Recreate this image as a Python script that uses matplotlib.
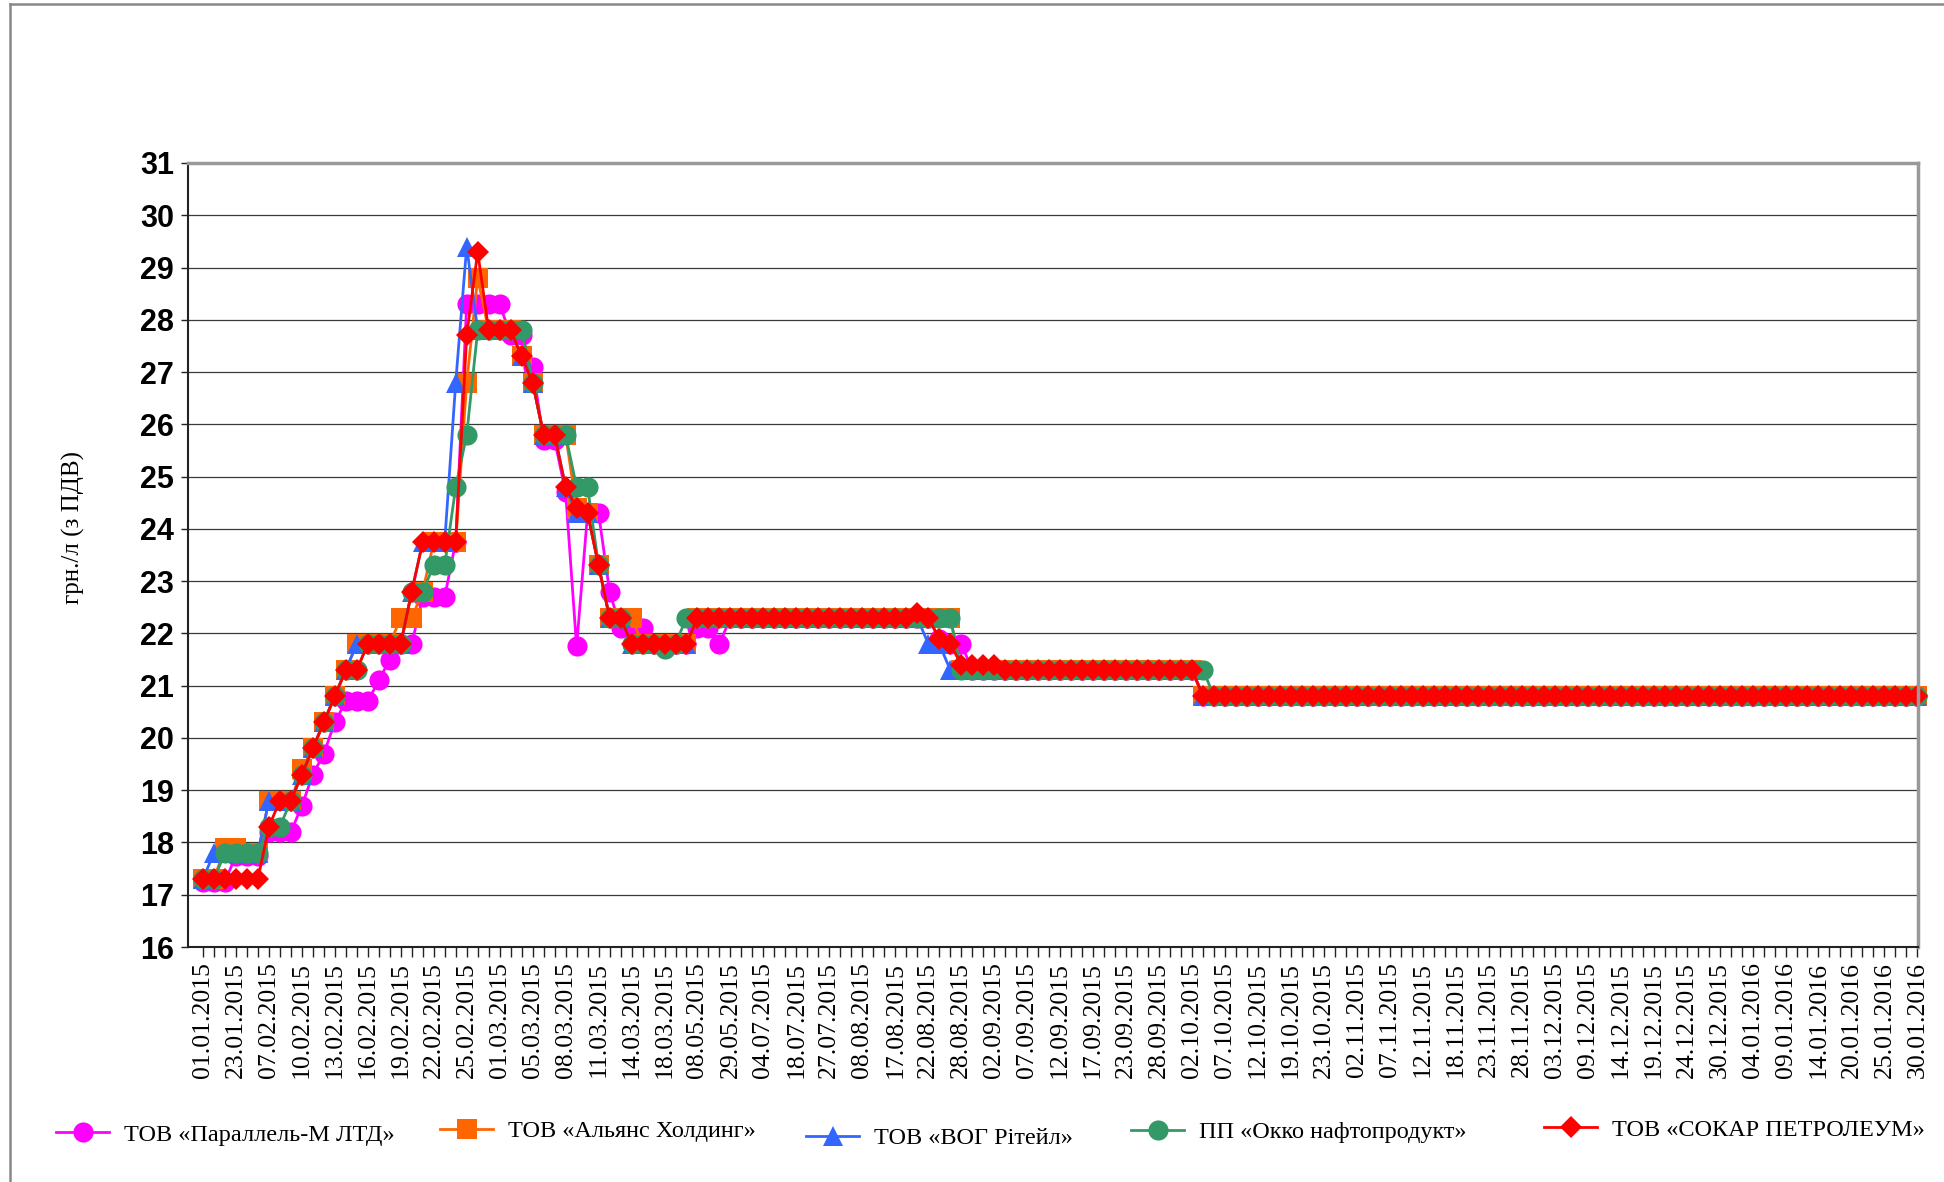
import numpy as np
import matplotlib.pyplot as plt
from matplotlib.lines import Line2D

# підписи дат (кожна третя категорія)
date_labels = ['01.01.2015', '23.01.2015', '07.02.2015', '10.02.2015', '13.02.2015', '16.02.2015',
               '19.02.2015', '22.02.2015', '25.02.2015', '01.03.2015', '05.03.2015', '08.03.2015',
               '11.03.2015', '14.03.2015', '18.03.2015', '08.05.2015', '29.05.2015', '04.07.2015',
               '18.07.2015', '27.07.2015', '08.08.2015', '17.08.2015', '22.08.2015', '28.08.2015',
               '02.09.2015', '07.09.2015', '12.09.2015', '17.09.2015', '23.09.2015', '28.09.2015',
               '02.10.2015', '07.10.2015', '12.10.2015', '19.10.2015', '23.10.2015', '02.11.2015',
               '07.11.2015', '12.11.2015', '18.11.2015', '23.11.2015', '28.11.2015', '03.12.2015',
               '09.12.2015', '14.12.2015', '19.12.2015', '24.12.2015', '30.12.2015', '04.01.2016',
               '09.01.2016', '14.01.2016', '20.01.2016', '25.01.2016', '30.01.2016']

names = ['ТОВ «Параллель-М ЛТД»', 'ТОВ «Альянс Холдинг»', 'ТОВ «ВОГ Рітейл»',
         'ПП «Окко нафтопродукт»', 'ТОВ «СОКАР ПЕТРОЛЕУМ»']

parallel = [
    17.25, 17.25, 17.25, 17.75, 17.75, 17.75, 18.2, 18.2, 18.2, 18.7,
    19.3, 19.7, 20.3, 20.7, 20.7, 20.7, 21.1, 21.5, 21.8, 21.8,
    22.7, 22.7, 22.7, 23.75, 28.3, 28.3, 28.3, 28.3, 27.7, 27.7,
    27.1, 25.7, 25.7, 24.7, 21.75, 24.3, 24.3, 22.8, 22.1, 22.1,
    22.1, 21.8, 21.8, 21.8, 21.8, 22.1, 22.1, 21.8, 22.3, 22.3,
    22.3, 22.3, 22.3, 22.3, 22.3, 22.3, 22.3, 22.3, 22.3, 22.3,
    22.3, 22.3, 22.3, 22.3, 22.3, 22.3, 22.3, 21.9, 21.8, 21.8,
    21.3, 21.3, 21.3, 21.3, 21.3, 21.3, 21.3, 21.3, 21.3, 21.3,
    21.3, 21.3, 21.3, 21.3, 21.3, 21.3, 21.3, 21.3, 21.3, 21.3,
    21.3, 20.8, 20.8, 20.8, 20.8, 20.8, 20.8, 20.8, 20.8, 20.8,
    20.8, 20.8, 20.8, 20.8, 20.8, 20.8, 20.8, 20.8, 20.8, 20.8,
    20.8, 20.8, 20.8, 20.8, 20.8, 20.8, 20.8, 20.8, 20.8, 20.8,
    20.8, 20.8, 20.8, 20.8, 20.8, 20.8, 20.8, 20.8, 20.8, 20.8,
    20.8, 20.8, 20.8, 20.8, 20.8, 20.8, 20.8, 20.8, 20.8, 20.8,
    20.8, 20.8, 20.8, 20.8, 20.8, 20.8, 20.8, 20.8, 20.8, 20.8,
    20.8, 20.8, 20.8, 20.8, 20.8, 20.8, 20.8]

alliance = [
    17.3, 17.3, 17.9, 17.9, 17.8, 17.8, 18.8, 18.8, 18.8, 19.4,
    19.8, 20.3, 20.8, 21.3, 21.8, 21.8, 21.8, 21.8, 22.3, 22.3,
    22.8, 23.75, 23.75, 23.75, 26.8, 28.8, 27.8, 27.8, 27.8, 27.3,
    26.8, 25.8, 25.8, 25.8, 24.4, 24.3, 23.3, 22.3, 22.3, 22.3,
    21.8, 21.8, 21.8, 21.8, 21.8, 22.3, 22.3, 22.3, 22.3, 22.3,
    22.3, 22.3, 22.3, 22.3, 22.3, 22.3, 22.3, 22.3, 22.3, 22.3,
    22.3, 22.3, 22.3, 22.3, 22.3, 22.3, 22.3, 22.3, 22.3, 21.3,
    21.3, 21.3, 21.3, 21.3, 21.3, 21.3, 21.3, 21.3, 21.3, 21.3,
    21.3, 21.3, 21.3, 21.3, 21.3, 21.3, 21.3, 21.3, 21.3, 21.3,
    21.3, 20.8, 20.8, 20.8, 20.8, 20.8, 20.8, 20.8, 20.8, 20.8,
    20.8, 20.8, 20.8, 20.8, 20.8, 20.8, 20.8, 20.8, 20.8, 20.8,
    20.8, 20.8, 20.8, 20.8, 20.8, 20.8, 20.8, 20.8, 20.8, 20.8,
    20.8, 20.8, 20.8, 20.8, 20.8, 20.8, 20.8, 20.8, 20.8, 20.8,
    20.8, 20.8, 20.8, 20.8, 20.8, 20.8, 20.8, 20.8, 20.8, 20.8,
    20.8, 20.8, 20.8, 20.8, 20.8, 20.8, 20.8, 20.8, 20.8, 20.8,
    20.8, 20.8, 20.8, 20.8, 20.8, 20.8, 20.8]

wog = [
    17.3, 17.8, 17.8, 17.8, 17.8, 17.8, 18.8, 18.8, 18.8, 19.3,
    19.8, 20.3, 20.8, 21.3, 21.8, 21.8, 21.8, 21.8, 21.8, 22.8,
    23.75, 23.75, 23.75, 26.8, 29.4, 27.8, 27.8, 27.8, 27.8, 27.3,
    26.8, 25.8, 25.8, 24.8, 24.3, 24.3, 23.3, 22.3, 22.3, 21.8,
    21.8, 21.8, 21.8, 21.8, 21.8, 22.3, 22.3, 22.3, 22.3, 22.3,
    22.3, 22.3, 22.3, 22.3, 22.3, 22.3, 22.3, 22.3, 22.3, 22.3,
    22.3, 22.3, 22.3, 22.3, 22.3, 22.3, 21.8, 21.8, 21.3, 21.3,
    21.3, 21.3, 21.3, 21.3, 21.3, 21.3, 21.3, 21.3, 21.3, 21.3,
    21.3, 21.3, 21.3, 21.3, 21.3, 21.3, 21.3, 21.3, 21.3, 21.3,
    21.3, 20.8, 20.8, 20.8, 20.8, 20.8, 20.8, 20.8, 20.8, 20.8,
    20.8, 20.8, 20.8, 20.8, 20.8, 20.8, 20.8, 20.8, 20.8, 20.8,
    20.8, 20.8, 20.8, 20.8, 20.8, 20.8, 20.8, 20.8, 20.8, 20.8,
    20.8, 20.8, 20.8, 20.8, 20.8, 20.8, 20.8, 20.8, 20.8, 20.8,
    20.8, 20.8, 20.8, 20.8, 20.8, 20.8, 20.8, 20.8, 20.8, 20.8,
    20.8, 20.8, 20.8, 20.8, 20.8, 20.8, 20.8, 20.8, 20.8, 20.8,
    20.8, 20.8, 20.8, 20.8, 20.8, 20.8, 20.8]

okko = [
    17.3, 17.3, 17.8, 17.8, 17.8, 17.8, 18.3, 18.3, 18.8, 19.3,
    19.8, 20.3, 20.8, 21.3, 21.3, 21.8, 21.8, 21.8, 21.8, 22.8,
    22.8, 23.3, 23.3, 24.8, 25.8, 27.8, 27.8, 27.8, 27.8, 27.8,
    26.8, 25.8, 25.8, 25.8, 24.8, 24.8, 23.3, 22.3, 22.3, 21.8,
    21.8, 21.8, 21.7, 21.8, 22.3, 22.3, 22.3, 22.3, 22.3, 22.3,
    22.3, 22.3, 22.3, 22.3, 22.3, 22.3, 22.3, 22.3, 22.3, 22.3,
    22.3, 22.3, 22.3, 22.3, 22.3, 22.3, 22.3, 22.3, 22.3, 21.3,
    21.3, 21.3, 21.3, 21.3, 21.3, 21.3, 21.3, 21.3, 21.3, 21.3,
    21.3, 21.3, 21.3, 21.3, 21.3, 21.3, 21.3, 21.3, 21.3, 21.3,
    21.3, 21.3, 20.8, 20.8, 20.8, 20.8, 20.8, 20.8, 20.8, 20.8,
    20.8, 20.8, 20.8, 20.8, 20.8, 20.8, 20.8, 20.8, 20.8, 20.8,
    20.8, 20.8, 20.8, 20.8, 20.8, 20.8, 20.8, 20.8, 20.8, 20.8,
    20.8, 20.8, 20.8, 20.8, 20.8, 20.8, 20.8, 20.8, 20.8, 20.8,
    20.8, 20.8, 20.8, 20.8, 20.8, 20.8, 20.8, 20.8, 20.8, 20.8,
    20.8, 20.8, 20.8, 20.8, 20.8, 20.8, 20.8, 20.8, 20.8, 20.8,
    20.8, 20.8, 20.8, 20.8, 20.8, 20.8, 20.8]

socar = [
    17.3, 17.3, 17.3, 17.3, 17.3, 17.3, 18.3, 18.8, 18.8, 19.3,
    19.8, 20.3, 20.8, 21.3, 21.3, 21.8, 21.8, 21.8, 21.8, 22.8,
    23.75, 23.75, 23.75, 23.75, 27.7, 29.3, 27.8, 27.8, 27.8, 27.3,
    26.8, 25.8, 25.8, 24.8, 24.4, 24.3, 23.3, 22.3, 22.3, 21.8,
    21.8, 21.8, 21.8, 21.8, 21.8, 22.3, 22.3, 22.3, 22.3, 22.3,
    22.3, 22.3, 22.3, 22.3, 22.3, 22.3, 22.3, 22.3, 22.3, 22.3,
    22.3, 22.3, 22.3, 22.3, 22.3, 22.4, 22.3, 21.9, 21.8, 21.4,
    21.4, 21.4, 21.4, 21.3, 21.3, 21.3, 21.3, 21.3, 21.3, 21.3,
    21.3, 21.3, 21.3, 21.3, 21.3, 21.3, 21.3, 21.3, 21.3, 21.3,
    21.3, 20.8, 20.8, 20.8, 20.8, 20.8, 20.8, 20.8, 20.8, 20.8,
    20.8, 20.8, 20.8, 20.8, 20.8, 20.8, 20.8, 20.8, 20.8, 20.8,
    20.8, 20.8, 20.8, 20.8, 20.8, 20.8, 20.8, 20.8, 20.8, 20.8,
    20.8, 20.8, 20.8, 20.8, 20.8, 20.8, 20.8, 20.8, 20.8, 20.8,
    20.8, 20.8, 20.8, 20.8, 20.8, 20.8, 20.8, 20.8, 20.8, 20.8,
    20.8, 20.8, 20.8, 20.8, 20.8, 20.8, 20.8, 20.8, 20.8, 20.8,
    20.8, 20.8, 20.8, 20.8, 20.8, 20.8, 20.8]

colors = ['#ff00ff', '#ff6600', '#3366ff', '#339966', '#ff0000']
markers = ['o', 's', '^', 'o', 'D']
msizes = [14.5, 14.5, 14.5, 14.5, 11.5]
legend_xy = [(0.0288, 0.0401), (0.2263, 0.0431), (0.4146, 0.0372),
             (0.5818, 0.0423), (0.7942, 0.0443)]

plt.rcParams['font.family'] = ['Liberation Serif', 'DejaVu Serif']
narrow_bold = ['Liberation Sans Narrow', 'Liberation Sans', 'DejaVu Sans']

fig = plt.figure(figsize=(19.44, 11.82), dpi=100)
ax = fig.add_axes([0.0967, 0.1988, 0.8899, 0.6633])

series = [parallel, alliance, wog, okko, socar]
x = np.arange(len(socar))
handles = []
for vals, c, m, ms in zip(series, colors, markers, msizes):
    h, = ax.plot(x, vals, color=c, lw=2.0, marker=m, markersize=ms,
                 markeredgewidth=0, clip_on=False)
    handles.append(h)

# осі
ax.set_ylim(16, 31)
ax.set_yticks(np.arange(16, 32, 1))
ax.set_xlim(-1.36, len(socar) - 0.95)
ax.set_xticks(np.arange(0, len(socar), 3))
ax.set_xticks(np.arange(len(socar)), minor=True)
ax.set_xticklabels(date_labels, rotation=90, fontsize=18.5)
ax.tick_params(axis='x', which='both', length=7, width=1, color='#222222', pad=4)
ax.tick_params(axis='y', length=5, width=1, color='#222222', pad=5, labelsize=22)
for lab in ax.get_yticklabels():
    lab.set_fontfamily(narrow_bold)
    lab.set_fontweight('bold')

ax.yaxis.grid(True, color='#3a3a3a', lw=0.9)
ax.set_axisbelow(True)
for side in ['left', 'bottom']:
    ax.spines[side].set_color('#222222')
    ax.spines[side].set_linewidth(1.5)
for side in ['top', 'right']:
    ax.spines[side].set_color('#999999')
    ax.spines[side].set_linewidth(2.5)

fig.text(0.038, 0.554, 'грн./л (з ПДВ)', rotation=90, fontsize=18, ha='center', va='center')

# легенда - кожен елемент окремо
for h, name, (lx, ly) in zip(handles, names, legend_xy):
    fig.legend(handles=[h], labels=[name], loc='center left', bbox_to_anchor=(lx, ly),
               frameon=False, fontsize=17.5, handlelength=2.2, handletextpad=0.6,
               borderpad=0, borderaxespad=0)

# рамка області діаграми
fig.add_artist(Line2D([0.0049, 1.0], [0.9966, 0.9966], transform=fig.transFigure,
                      color='#888888', lw=1.8))
fig.add_artist(Line2D([0.0049, 0.0049], [0.0, 0.9966], transform=fig.transFigure,
                      color='#888888', lw=1.8))

fig.savefig('out.png', dpi=100)
